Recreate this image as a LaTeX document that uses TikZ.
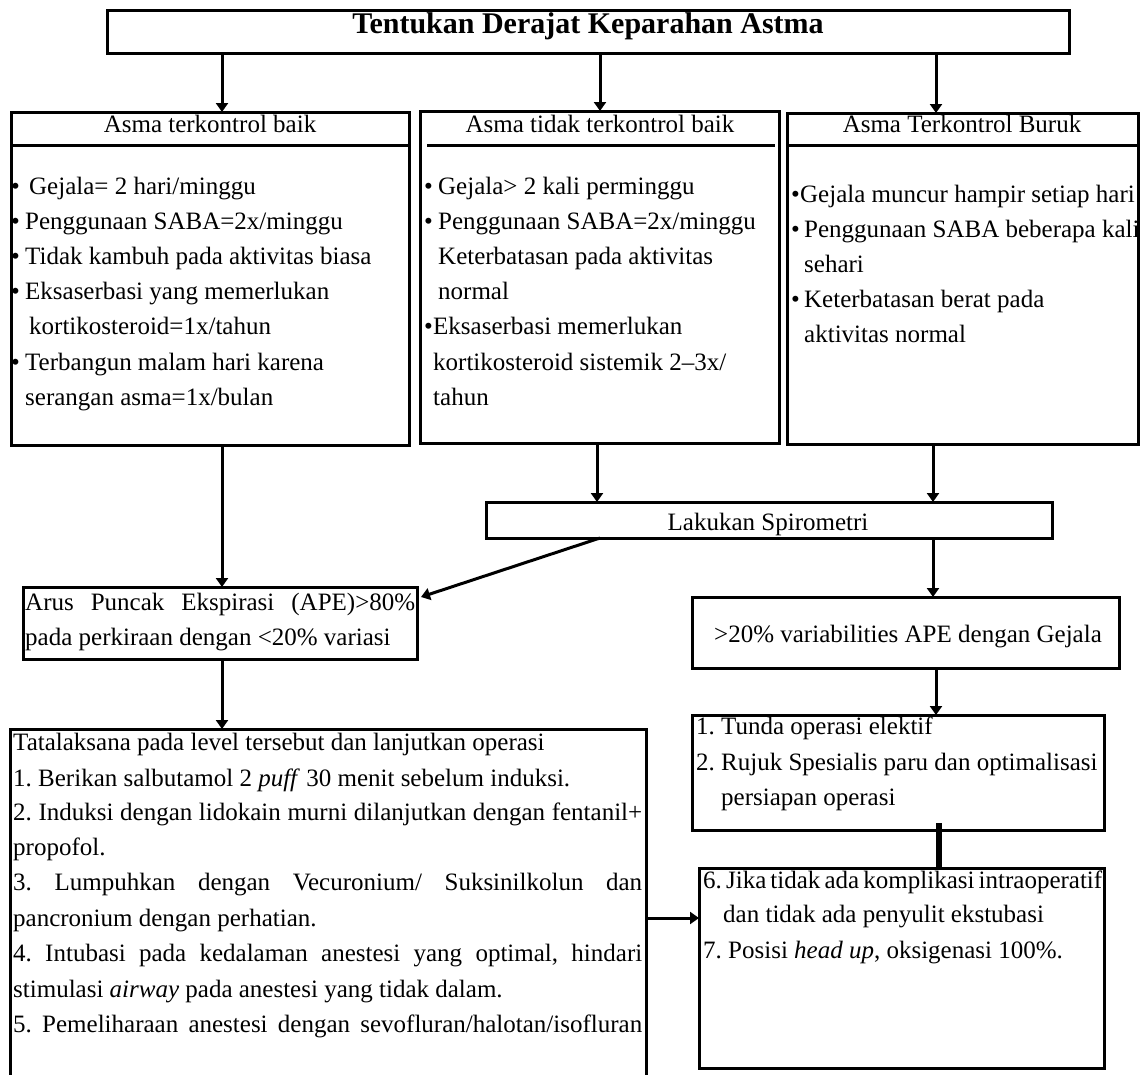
\documentclass[tikz,border=0pt]{standalone}
\usepackage{fontspec}
\setmainfont{Liberation Serif}
\usetikzlibrary{arrows.meta}
\frenchspacing
\newcommand\bodyfont{\fontsize{25}{30}\selectfont\frenchspacing}
\newcommand\titlefont{\fontsize{30}{36}\selectfont\bfseries}
\newcommand\bl[1]{\makebox[#1][l]{•}}
\newcommand\jl[2]{\hbox to #1{\spaceskip=.25em plus 1fill minus .2em\relax #2}}
\tikzset{
  box/.style={draw, line width=3pt, inner sep=0pt, outer sep=0pt, anchor=north west},
  txt/.style={inner sep=0pt, anchor=base west, font=\bodyfont},
  arr/.style={line width=3pt, -{Triangle[width=12pt,length=9pt]}},
  bar/.style={line width=5.5pt}
}
\begin{document}
\begin{tikzpicture}[x=1pt,y=-1pt]
\useasboundingbox (0,0) rectangle (1140,1074);
\clip (0,0) rectangle (1140,1074);
\fill[white] (0,0) rectangle (1140,1074);
% column coordinates
\coordinate (cA) at (222,0);
\coordinate (cB) at (600,0);
\coordinate (cB2) at (597,0);
\coordinate (cC) at (936,0);
\coordinate (cC2) at (933,0);
\coordinate (cD) at (939,0);
\coordinate (cE) at (0,918);
\coordinate (arusin) at (421,597);
% boxes
\node[box, minimum width=962pt, minimum height=43pt] (title) at (107,10) {};
\node[box, minimum width=398pt, minimum height=333pt] (b1) at (11,112) {};
\node[box, minimum width=359pt, minimum height=332pt] (b2) at (420,111) {};
\node[box, minimum width=351pt, minimum height=331pt] (b3) at (787,113) {};
\node[box, minimum width=566pt, minimum height=36pt] (spiro) at (486,502) {};
\node[box, minimum width=394pt, minimum height=72pt] (arus) at (23,587) {};
\node[box, minimum width=427pt, minimum height=71pt] (var) at (692,597) {};
\node[box, minimum width=636pt, minimum height=361pt] (tata) at (10,729) {};
\node[box, minimum width=412pt, minimum height=115pt] (tunda) at (692,715) {};
\node[box, minimum width=405pt, minimum height=200pt] (b6) at (699,868) {};
% header lines
\draw[line width=3pt] ([yshift=-33pt]b1.north west) -- ([yshift=-33pt]b1.north east);
\draw[line width=3pt] ([xshift=7pt,yshift=-34pt]b2.north west) -- ([xshift=-4pt,yshift=-34pt]b2.north east);
\draw[line width=3pt] ([yshift=-32pt]b3.north west) -- ([yshift=-32pt]b3.north east);
% title
\node[inner sep=0pt, anchor=base, font=\titlefont] (ttl) at (588,33) {Tentukan Derajat Keparahan Astma};
% headers
\node[txt, anchor=base] (h1) at (210,132) {Asma terkontrol baik};
\node[txt, anchor=base] (h2) at (600,132) {Asma tidak terkontrol baik};
\node[txt, anchor=base] (h3) at (962,132) {Asma Terkontrol Buruk};
% box 1 text
\node[txt] (a1) at (11,194) {\bl{18pt}Gejala= 2 hari/minggu};
\node[txt] (a2) at (11,229) {\bl{14pt}Penggunaan SABA=2x/minggu};
\node[txt] (a3) at (11,264) {\bl{14pt}Tidak kambuh pada aktivitas biasa};
\node[txt] (a4) at (11,299) {\bl{14pt}Eksaserbasi yang memerlukan};
\node[txt] (a5) at (29,334) {kortikosteroid=1x/tahun};
\node[txt] (a6) at (11,370) {\bl{14pt}Terbangun malam hari karena};
\node[txt] (a7) at (25,405) {serangan asma=1x/bulan};
% box 2 text
\node[txt] (c1) at (424,194) {\bl{14pt}Gejala> 2 kali perminggu};
\node[txt] (c2) at (424,229) {\bl{14pt}Penggunaan SABA=2x/minggu};
\node[txt] (c3) at (438,264) {Keterbatasan pada aktivitas};
\node[txt] (c4) at (438,299) {normal};
\node[txt] (c5) at (424,334) {\bl{9pt}Eksaserbasi memerlukan};
\node[txt] (c6) at (433,370) {kortikosteroid sistemik 2--3x/};
\node[txt] (c7) at (433,405) {tahun};
% box 3 text
\node[txt] (d1) at (791,202) {\bl{9pt}Gejala muncur hampir setiap hari};
\node[txt] (d2) at (791,237) {\bl{13pt}Penggunaan SABA beberapa kali};
\node[txt] (d3) at (804,272) {sehari};
\node[txt] (d4) at (791,307) {\bl{13pt}Keterbatasan berat pada};
\node[txt] (d5) at (804,342) {aktivitas normal};
% spirometri
\node[txt, anchor=base] (st) at (768,530) {Lakukan Spirometri};
% arus
\node[txt] (r1) at (25,610) {\jl{390pt}{Arus Puncak Ekspirasi (APE)>80\%}};
\node[txt] (r2) at (25,645) {pada perkiraan dengan <20\% variasi};
% variabilities
\node[txt] (v1) at (714,642) {>20\% variabilities APE dengan Gejala};
% tunda
\node[txt] (u1) at (696,734) {1. Tunda operasi elektif};
\node[txt] (u2) at (696,770) {2. Rujuk Spesialis paru dan optimalisasi};
\node[txt] (u3) at (721,805) {persiapan operasi};
% box 6
\node[txt] (s1) at (703,888) {\jl{399pt}{6. Jika tidak ada komplikasi intraoperatif}};
\node[txt] (s2) at (723,922) {dan tidak ada penyulit ekstubasi};
\node[txt] (s3) at (703,958) {7. Posisi \emph{head up}, oksigenasi 100\%.};
% tatalaksana
\node[txt] (t0) at (13,750) {Tatalaksana pada level tersebut dan lanjutkan operasi};
\node[txt] (t1) at (13,786) {1. Berikan salbutamol 2 \emph{puff} 30 menit sebelum induksi.};
\node[txt] (t2) at (13,820) {\jl{629pt}{2. Induksi dengan lidokain murni dilanjutkan dengan fentanil+}};
\node[txt] (t3) at (13,855) {propofol.};
\node[txt] (t4) at (13,890) {\jl{629pt}{3. Lumpuhkan dengan Vecuronium/ Suksinilkolun dan}};
\node[txt] (t5) at (13,926) {pancronium dengan perhatian.};
\node[txt] (t6) at (13,961) {\jl{629pt}{4. Intubasi pada kedalaman anestesi yang optimal, hindari}};
\node[txt] (t7) at (13,997) {stimulasi \emph{airway} pada anestesi yang tidak dalam.};
\node[txt] (t8) at (13,1032) {\jl{629pt}{5. Pemeliharaan anestesi dengan sevofluran/halotan/isofluran}};
% connectors
\draw[arr] (title.south -| cA) -- (b1.north -| cA);
\draw[arr] (title.south -| cB) -- (b2.north -| cB);
\draw[arr] (title.south -| cC) -- (b3.north -| cC);
\draw[arr] (b1.south -| cA) -- (arus.north -| cA);
\draw[arr] (b2.south -| cB2) -- (spiro.north -| cB2);
\draw[arr] (b3.south -| cC2) -- (spiro.north -| cC2);
\draw[arr] (spiro.south -| cB) -- (arusin);
\draw[arr] (spiro.south -| cC2) -- (var.north -| cC2);
\draw[arr] (arus.south -| cA) -- (tata.north -| cA);
\draw[arr] (var.south -| cC) -- (tunda.north -| cC);
\draw[bar, shorten <=-7pt] (tunda.south -| cD) -- (b6.north -| cD);
\draw[arr] (tata.east |- cE) -- (b6.west |- cE);
\end{tikzpicture}
\end{document}
